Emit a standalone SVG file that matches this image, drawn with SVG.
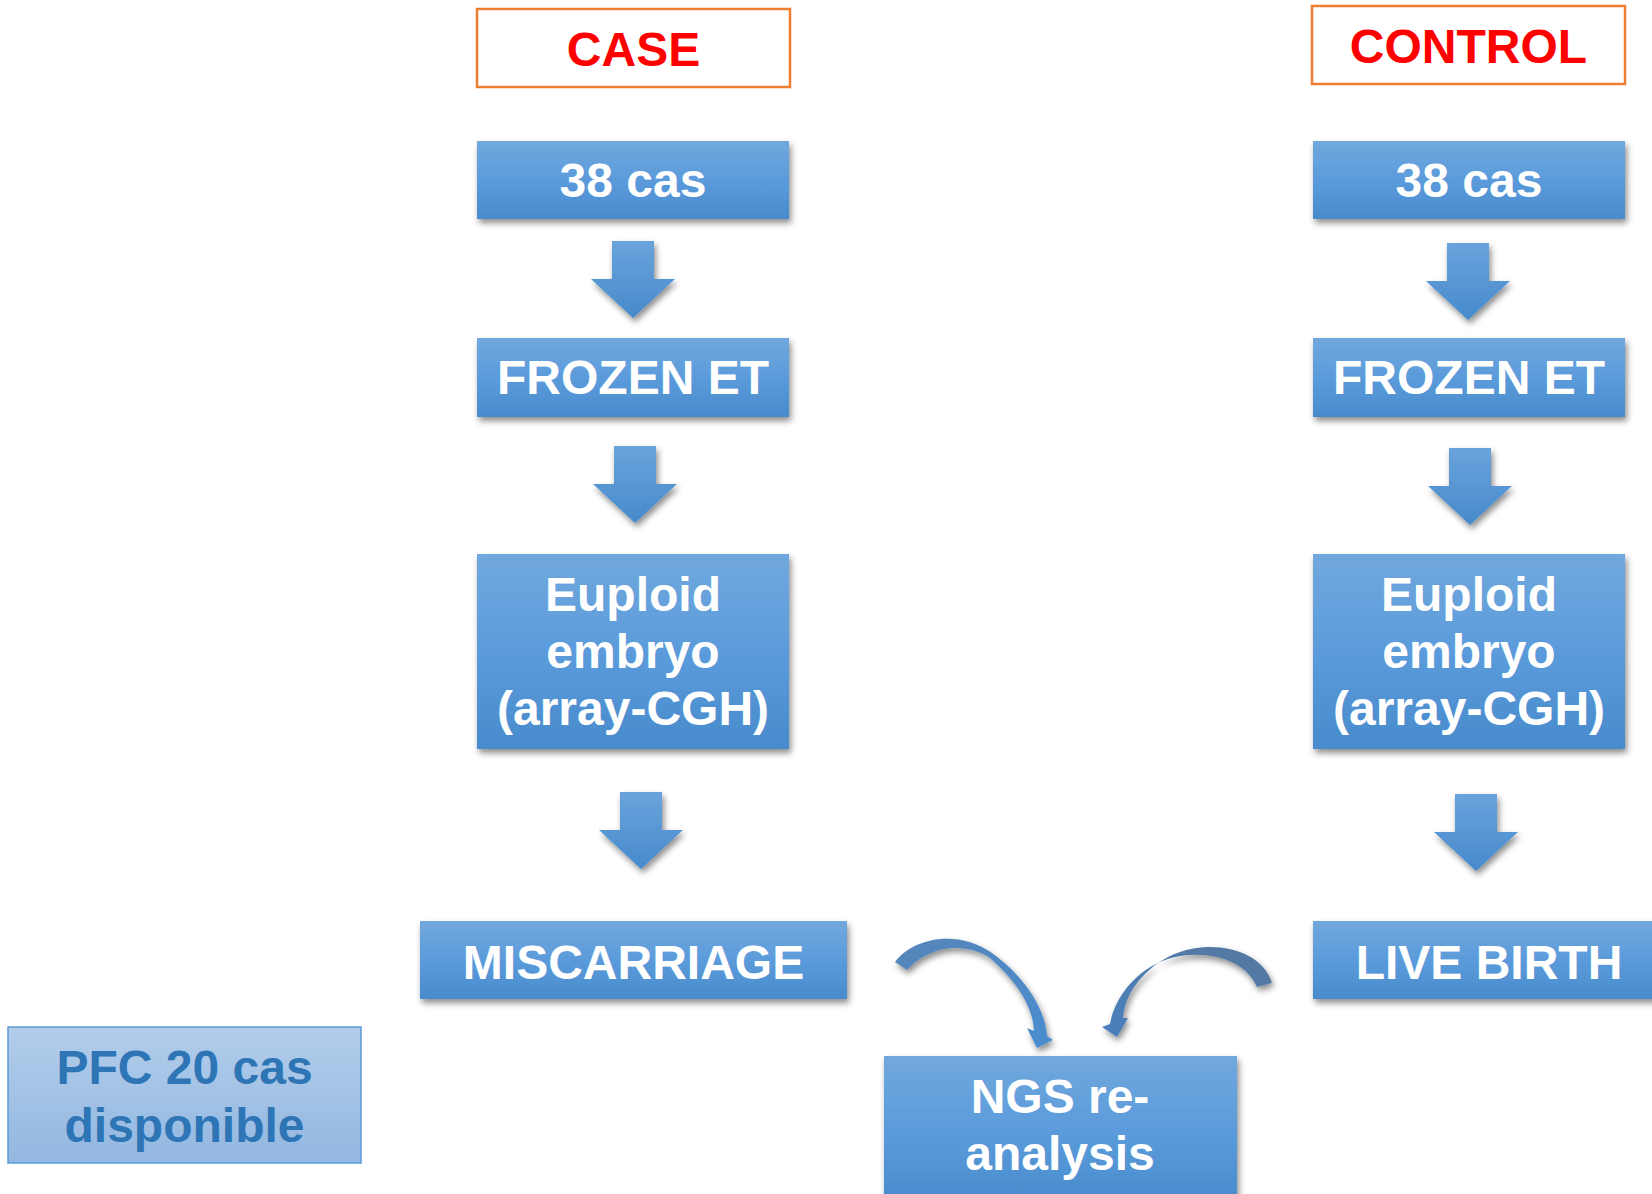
<svg xmlns="http://www.w3.org/2000/svg" width="1652" height="1194" viewBox="0 0 1652 1194">
<style>
.hdr{fill:#ffffff;stroke:#ed7d31;stroke-width:2.5}
.hdrt{font-family:"Liberation Sans",Arial,sans-serif;font-weight:bold;font-size:48px;fill:#ff0000;text-anchor:middle}
.box{fill:url(#g);filter:url(#sh)}
.t{font-family:"Liberation Sans",Arial,sans-serif;font-weight:bold;font-size:48px;fill:#ffffff;text-anchor:middle}
.pfc{fill:url(#gl);stroke:#5b9bd5;stroke-width:1.5}
.pfct{font-family:"Liberation Sans",Arial,sans-serif;font-weight:bold;font-size:48px;fill:#2e75b6;text-anchor:middle}
.arr{fill:url(#ga);filter:url(#sh)}
</style>
<defs>
<linearGradient id="g" x1="0" y1="0" x2="0" y2="1">
<stop offset="0" stop-color="#71a8dd"/>
<stop offset="0.5" stop-color="#5b9bdb"/>
<stop offset="1" stop-color="#488bcc"/>
</linearGradient>
<linearGradient id="ga" x1="0" y1="0" x2="0" y2="1">
<stop offset="0" stop-color="#6aa3dc"/>
<stop offset="1" stop-color="#478acb"/>
</linearGradient>
<linearGradient id="gl" x1="0" y1="0" x2="0" y2="1">
<stop offset="0" stop-color="#b2cdea"/>
<stop offset="1" stop-color="#93b7e1"/>
</linearGradient>
<linearGradient id="gc1" x1="0" y1="0" x2="1" y2="1">
<stop offset="0" stop-color="#5585b8"/>
<stop offset="1" stop-color="#4a8dd0"/>
</linearGradient>
<linearGradient id="gc2" x1="1" y1="0" x2="0" y2="1">
<stop offset="0" stop-color="#55789f"/>
<stop offset="1" stop-color="#4a80bd"/>
</linearGradient>
<filter id="sh" x="-10%" y="-10%" width="125%" height="130%">
<feDropShadow dx="2" dy="4" stdDeviation="3" flood-color="#000" flood-opacity="0.45"/>
</filter>
<path id="da" d="M-21,0 H21 V38 H42 L0,77 L-42,38 H-21 Z"/>
</defs>

<g id="case-header">
<rect class="hdr" x="477" y="9" width="313" height="78"/>
<text class="hdrt" x="633.5" y="66">CASE</text>
</g>
<g id="control-header">
<rect class="hdr" x="1312" y="6" width="313" height="78"/>
<text class="hdrt" x="1468.5" y="63">CONTROL</text>
</g>

<g id="case-38">
<rect class="box" x="477" y="141" width="312" height="78"/>
<text class="t" x="633" y="197">38 cas</text>
</g>
<g id="control-38">
<rect class="box" x="1313" y="141" width="312" height="78"/>
<text class="t" x="1469" y="197">38 cas</text>
</g>

<g id="case-frozen">
<rect class="box" x="477" y="338" width="312" height="79"/>
<text class="t" x="633" y="394">FROZEN ET</text>
</g>
<g id="control-frozen">
<rect class="box" x="1313" y="338" width="312" height="79"/>
<text class="t" x="1469" y="394">FROZEN ET</text>
</g>

<g id="case-euploid">
<rect class="box" x="477" y="554" width="312" height="195"/>
<text class="t" x="633" y="611">Euploid</text>
<text class="t" x="633" y="668">embryo</text>
<text class="t" x="633" y="725">(array-CGH)</text>
</g>
<g id="control-euploid">
<rect class="box" x="1313" y="554" width="312" height="195"/>
<text class="t" x="1469" y="611">Euploid</text>
<text class="t" x="1469" y="668">embryo</text>
<text class="t" x="1469" y="725">(array-CGH)</text>
</g>

<g id="miscarriage">
<rect class="box" x="420" y="921" width="427" height="78"/>
<text class="t" x="633.5" y="979">MISCARRIAGE</text>
</g>
<g id="live-birth">
<rect class="box" x="1313" y="921" width="352" height="78"/>
<text class="t" x="1489" y="979">LIVE BIRTH</text>
</g>

<g id="ngs">
<rect class="box" x="884" y="1056" width="353" height="150"/>
<text class="t" x="1060" y="1113">NGS re-</text>
<text class="t" x="1060" y="1170">analysis</text>
</g>

<g id="pfc">
<rect class="pfc" x="8" y="1027" width="353" height="136"/>
<text class="pfct" x="184.5" y="1084">PFC 20 cas</text>
<text class="pfct" x="184.5" y="1142">disponible</text>
</g>

<g id="connectors">
<use href="#da" class="arr" transform="translate(633,241)"/>
<use href="#da" class="arr" transform="translate(635,446)"/>
<use href="#da" class="arr" transform="translate(641,792)"/>
<use href="#da" class="arr" transform="translate(1468,243)"/>
<use href="#da" class="arr" transform="translate(1470,448)"/>
<use href="#da" class="arr" transform="translate(1476,794)"/>
<path fill="url(#gc1)" filter="url(#sh)" d="M895,962 C915,936 960,930 992,953 C1020,973 1045,1005 1047,1036 L1053,1040 L1037,1048 L1027,1028 L1034,1031 C1033,1005 1015,980 990,958 C965,942 930,945 907,970 Z"/>
<path fill="url(#gc2)" filter="url(#sh)" d="M1272,983 C1262,950 1215,940 1180,952 C1150,962 1125,990 1123,1018 L1128,1018 L1117,1037 L1102,1027 L1110,1024 C1115,995 1140,965 1175,957 C1210,950 1245,960 1257,987 Z"/>
</g>
</svg>
